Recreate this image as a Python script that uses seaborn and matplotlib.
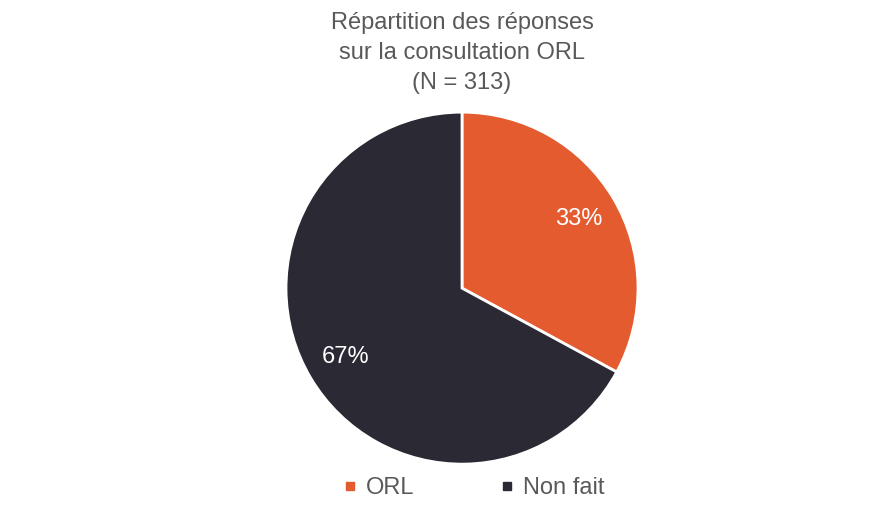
import matplotlib
matplotlib.use("Agg")
import matplotlib.pyplot as plt
import seaborn as sns
from matplotlib.lines import Line2D

categories = ["ORL", "Non fait"]
counts = [103, 210]
colors = ["#E35B2F", "#2A2934"]
title = "Répartition des réponses\nsur la consultation ORL\n(N = 313)"

sns.set_theme(style="white")
plt.rcParams['font.family'] = ['Liberation Sans', 'DejaVu Sans']
grey = "#595959"

fig = plt.figure(figsize=(8.8, 5.18), dpi=100)
ax = fig.add_axes([0.325, 0.104, 0.4, 0.6795])

wedges, texts, autotexts = ax.pie(
    counts, colors=colors, startangle=90, counterclock=False,
    autopct=lambda p: "{:.0f}%".format(p), pctdistance=0.77,
    wedgeprops={"edgecolor": "white", "linewidth": 2},
    textprops={"color": "white", "fontsize": 17})
ax.set_xlim(-1, 1)
ax.set_ylim(-1, 1)
ax.set_aspect("equal")

fig.text(0.525, 0.977, title, ha="center", va="top", fontsize=17,
         color=grey, linespacing=1.47)

handles = [Line2D([], [], marker="s", linestyle="", markersize=6,
                  markerfacecolor=c, markeredgecolor=c) for c in colors]
fig.legend(handles, categories, loc="center", bbox_to_anchor=(0.537, 0.058),
           ncol=2, frameon=False, fontsize=17, labelcolor=grey,
           handletextpad=0.27, columnspacing=3.5, handlelength=0.8)

fig.savefig("out.png", dpi=100)
